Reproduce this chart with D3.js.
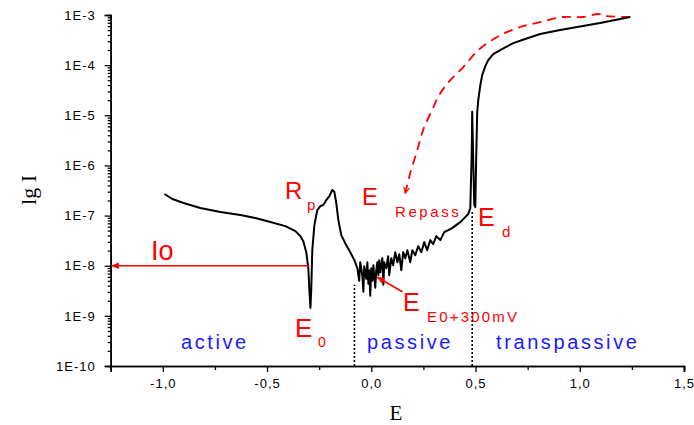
<!DOCTYPE html>
<html>
<head>
<meta charset="utf-8">
<script src="https://cdn.jsdelivr.net/npm/d3@7"></script>
<style>
  body { margin: 0; background: #fff; }
  svg text { font-family: "Liberation Sans", Arial, sans-serif; }
</style>
</head>
<body>
<div id="chart"></div>
<script>
// forward scan (black): potential E (V) and lg I
var scanE = [-0.992, -0.954, -0.901, -0.820, -0.724, -0.628, -0.556, -0.484, -0.412, -0.364,
  -0.340, -0.326, -0.312, -0.302, -0.297, -0.292, -0.288, -0.283, -0.273, -0.259,
  -0.244, -0.230, -0.216, -0.201, -0.187, -0.177, -0.168, -0.158, -0.144, -0.125,
  -0.101, -0.081, -0.067, -0.058, -0.053, -0.043, -0.038, -0.034, -0.024, -0.019,
  -0.014, -0.010, -0.005, 0.000, 0.005, 0.010, 0.019, 0.024, 0.029, 0.034,
  0.038, 0.043, 0.053, 0.058, 0.062, 0.072, 0.081, 0.086, 0.096, 0.105,
  0.115, 0.125, 0.134, 0.144, 0.153, 0.163, 0.173, 0.187, 0.197, 0.211,
  0.225, 0.240, 0.254, 0.268, 0.283, 0.297, 0.312, 0.331, 0.350, 0.369,
  0.388, 0.407, 0.427, 0.446, 0.465, 0.475, 0.482, 0.484, 0.489, 0.494,
  0.499, 0.503, 0.508, 0.513, 0.523, 0.532, 0.547, 0.561, 0.585, 0.618,
  0.681, 0.738, 0.810, 0.906, 0.988, 1.098, 1.170, 1.242];
var scanLg = [-6.57, -6.67, -6.75, -6.85, -6.93, -6.99, -7.05, -7.13, -7.21, -7.31,
  -7.41, -7.51, -7.73, -8.05, -8.48, -8.84, -8.48, -7.69, -7.19, -6.89,
  -6.81, -6.79, -6.69, -6.61, -6.49, -6.53, -6.75, -7.09, -7.39, -7.55,
  -7.73, -7.89, -8.05, -8.30, -7.93, -8.19, -8.52, -8.01, -8.26, -7.93,
  -8.36, -8.09, -8.60, -8.05, -8.30, -7.99, -8.44, -8.09, -7.93, -8.19,
  -7.89, -8.13, -7.85, -8.38, -7.93, -8.05, -7.81, -8.19, -7.85, -7.99,
  -7.73, -7.93, -7.77, -8.09, -7.73, -7.85, -7.69, -7.93, -7.69, -7.79,
  -7.61, -7.73, -7.53, -7.69, -7.49, -7.57, -7.41, -7.49, -7.33, -7.29,
  -7.25, -7.19, -7.13, -7.05, -6.97, -6.85, -5.69, -4.93, -5.89, -6.79,
  -6.83, -5.89, -4.95, -4.70, -4.40, -4.20, -4.02, -3.90, -3.78, -3.70,
  -3.56, -3.48, -3.38, -3.30, -3.24, -3.16, -3.10, -3.04];

// reverse scan (red dashed)
var backE = [1.242, 1.122, 1.088, 1.016, 0.920, 0.810, 0.700, 0.604, 0.513, 0.441,
  0.379, 0.331, 0.292, 0.249, 0.221, 0.187, 0.163];
var backLg = [-3.04, -3.02, -2.98, -3.04, -3.04, -3.14, -3.26, -3.44, -3.70, -4.04,
  -4.30, -4.56, -4.89, -5.29, -5.69, -6.15, -6.55];

var xTicks = [-1.0, -0.5, 0.0, 0.5, 1.0, 1.5];
var xMinor = [-1.25, -0.75, -0.25, 0.25, 0.75, 1.25];
var yTicks = [1e-10, 1e-9, 1e-8, 1e-7, 1e-6, 1e-5, 1e-4, 1e-3];

var width = 694, height = 425;
var red = '#ff0000', blue = '#1a1aff';

var svg = d3.select('#chart').append('svg')
    .attr('width', width)
    .attr('height', height);

var x = d3.scaleLinear().domain([-1.25, 1.5]).range([110.7, 684]);
var y = d3.scaleLog().domain([1e-10, 1e-3]).range([366, 15]);

var defs = svg.append('defs');
defs.append('marker')
    .attr('id', 'arrow')
    .attr('viewBox', '0 0 10 10')
    .attr('refX', 9).attr('refY', 5)
    .attr('markerWidth', 5).attr('markerHeight', 5)
    .attr('markerUnits', 'strokeWidth')
    .attr('orient', 'auto')
  .append('path')
    .attr('d', 'M0,1L10,5L0,9z')
    .attr('fill', red);
defs.append('marker')
    .attr('id', 'openarrow')
    .attr('viewBox', '0 0 10 10')
    .attr('refX', 9).attr('refY', 5)
    .attr('markerWidth', 4).attr('markerHeight', 4)
    .attr('markerUnits', 'strokeWidth')
    .attr('orient', 'auto')
  .append('path')
    .attr('d', 'M1,1L9,5L1,9')
    .attr('fill', 'none')
    .attr('stroke', red)
    .attr('stroke-width', 1.6);

// axes
var minorY = [];
yTicks.slice(0, -1).forEach(function(d) {
  for (var k = 2; k < 10; k++) minorY.push(d * k);
});

function fmtX(d) {
  return (d < 0 ? '-' : '') + Math.abs(d).toFixed(1).replace('.', ',');
}

svg.append('g')
    .attr('transform', 'translate(' + x.range()[0] + ',0)')
    .call(d3.axisLeft(y).tickValues(minorY).tickSize(3).tickFormat(''));
svg.append('g')
    .attr('transform', 'translate(' + x.range()[0] + ',0)')
    .call(d3.axisLeft(y).tickValues(yTicks).tickSize(6).tickPadding(9)
      .tickFormat(function(d) { return '1E' + Math.round(Math.log10(d)); }));

svg.append('g')
    .attr('transform', 'translate(0,' + y.range()[0] + ')')
    .call(d3.axisBottom(x).tickValues(xMinor).tickSize(4).tickFormat(''));
svg.append('g')
    .attr('transform', 'translate(0,' + y.range()[0] + ')')
    .call(d3.axisBottom(x).tickValues(xTicks).tickSize(6).tickPadding(7).tickFormat(fmtX));

svg.selectAll('.domain').attr('stroke', '#000').attr('stroke-width', 1.6);
svg.selectAll('.tick line').attr('stroke', '#000').attr('stroke-width', 1.3);
svg.selectAll('.tick text')
    .attr('font-size', 13)
    .attr('letter-spacing', 1)
    .attr('fill', '#000')
    .style('font-family', '"Liberation Sans", Arial, sans-serif');

// axis titles
svg.append('text')
    .attr('transform', 'translate(36,190) rotate(-90)')
    .attr('text-anchor', 'middle')
    .attr('font-size', 22)
    .style('font-family', '"Liberation Serif", "Times New Roman", serif')
    .text('lg I');
svg.append('text')
    .attr('x', 396).attr('y', 420)
    .attr('text-anchor', 'middle')
    .attr('font-size', 21)
    .style('font-family', '"Liberation Serif", "Times New Roman", serif')
    .text('E');

// dotted boundaries
var bounds = [{e: -0.081, top: Math.pow(10, -8.38)}, {e: 0.484, top: Math.pow(10, -6.93)}];
svg.selectAll('line.bound')
    .data(bounds)
  .enter().append('line')
    .attr('class', 'bound')
    .attr('x1', function(d) { return x(d.e); })
    .attr('x2', function(d) { return x(d.e); })
    .attr('y1', y(1e-10))
    .attr('y2', function(d) { return y(d.top); })
    .attr('stroke', '#000')
    .attr('stroke-width', 1.6)
    .attr('stroke-dasharray', '2,2');

var line = d3.line()
    .x(function(d) { return x(d[0]); })
    .y(function(d) { return y(Math.pow(10, d[1])); });
var smooth = d3.line()
    .x(function(d) { return x(d[0]); })
    .y(function(d) { return y(Math.pow(10, d[1])); })
    .curve(d3.curveCatmullRom);

var scan = d3.zip(scanE, scanLg);
var back = d3.zip(backE, backLg);

svg.append('path')
    .datum(back)
    .attr('d', smooth)
    .attr('fill', 'none')
    .attr('stroke', red)
    .attr('stroke-width', 1.8)
    .attr('stroke-dasharray', '9,6')
    .attr('marker-end', 'url(#openarrow)');

svg.append('path')
    .datum(scan)
    .attr('d', line)
    .attr('fill', 'none')
    .attr('stroke', '#000')
    .attr('stroke-width', 2)
    .attr('stroke-linejoin', 'round');

// Io arrow
svg.append('line')
    .attr('x1', x(-0.30)).attr('y1', y(1e-8))
    .attr('x2', x(-1.25) + 1).attr('y2', y(1e-8))
    .attr('stroke', red)
    .attr('stroke-width', 1.6)
    .attr('marker-end', 'url(#arrow)');

// E0+300mV arrow
svg.append('line')
    .attr('x1', x(0.149)).attr('y1', y(Math.pow(10, -8.52)))
    .attr('x2', x(0.029)).attr('y2', y(Math.pow(10, -8.23)))
    .attr('stroke', red)
    .attr('stroke-width', 1.6)
    .attr('marker-end', 'url(#arrow)');

// annotations
var labels = [
  {t: 'Io', x: 151, y: 260, s: 27, c: red},
  {t: 'R', x: 285, y: 199, s: 24, c: red},
  {t: 'p', x: 307, y: 210, s: 15, c: red},
  {t: 'E', x: 362, y: 205, s: 24, c: red},
  {t: 'Repass', x: 395, y: 217, s: 15, c: red, ls: 2.6},
  {t: 'E', x: 478, y: 226, s: 25, c: red},
  {t: 'd', x: 502, y: 237, s: 15, c: red},
  {t: 'E', x: 295, y: 337, s: 26, c: red},
  {t: '0', x: 318, y: 347, s: 14, c: red},
  {t: 'E', x: 403, y: 311, s: 25, c: red},
  {t: 'E0+300mV', x: 427, y: 322, s: 15, c: red, ls: 2.2},
  {t: 'active', x: 181, y: 349, s: 20, c: blue, ls: 2.6},
  {t: 'passive', x: 367, y: 349, s: 20, c: blue, ls: 2.6},
  {t: 'transpassive', x: 496, y: 349, s: 20, c: blue, ls: 2.6}
];
svg.selectAll('text.note')
    .data(labels)
  .enter().append('text')
    .attr('class', 'note')
    .attr('x', function(d) { return d.x; })
    .attr('y', function(d) { return d.y; })
    .attr('font-size', function(d) { return d.s; })
    .attr('letter-spacing', function(d) { return d.ls || 0; })
    .attr('fill', function(d) { return d.c; })
    .text(function(d) { return d.t; });
</script>
</body>
</html>
